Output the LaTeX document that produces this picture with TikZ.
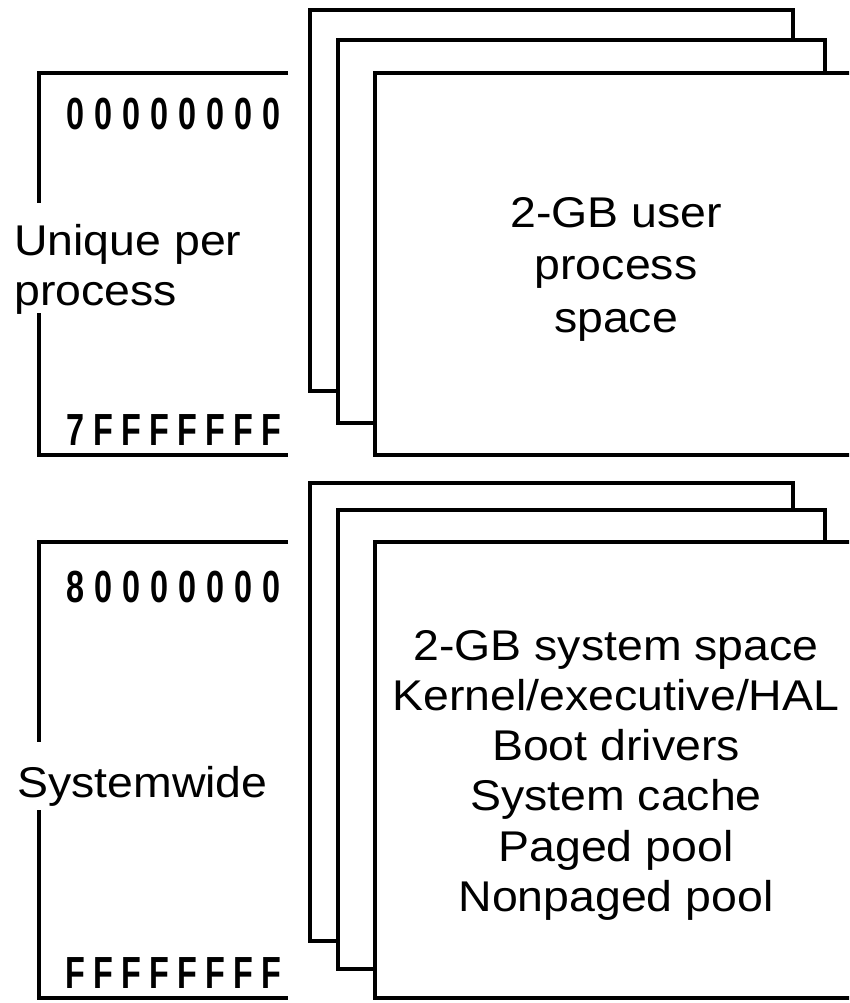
\documentclass[tikz,border=0pt]{standalone}
\usepackage{fontspec}
\setmainfont{Liberation Sans}
\newfontfamily\labelfont[FakeStretch=1.08]{Liberation Sans}
\newfontfamily\hexfont[FakeStretch=0.72]{Liberation Sans Bold}
\makeatletter
% set an address with a fixed pitch per character
\newcommand\hexrow[1]{\@tfor\hx:=#1\do{\makebox[28pt]{\hx}}}
\makeatother
\tikzset{
  rule/.style={line width=4pt, black, line cap=butt, line join=miter},
  page/.style={rule, fill=white},
  addr/.style={anchor=base west, inner sep=0pt, font=\hexfont\fontsize{45pt}{45pt}\selectfont},
  side/.style={anchor=base west, inner sep=0pt, align=left,
    font=\labelfont\fontsize{43pt}{50pt}\selectfont},
  body/.style={anchor=north, inner sep=0pt, align=center, font=\labelfont\fontsize{43pt}{#1}\selectfont}
}
\begin{document}
\begin{tikzpicture}[x=1pt,y=-1pt]
\useasboundingbox (0,0) rectangle (849,1003);
\clip (0,0) rectangle (849,1003);

% ---- per-process part: stacked user spaces ----
\filldraw[page] (310,10) rectangle (793,391);
\filldraw[page] (338,40) rectangle (825,423);
\filldraw[page] (375,73) rectangle (880,455);
\node[body=52.5pt] (user) at (616,197) {2-GB user\\process\\space};

% bracket for the unique range
\draw[rule] (288,73) -- (39,73) -- (39,203);
\draw[rule] (39,313) -- (39,455) -- (288,455);
\node[addr] (ulo) at (61,130) {\hexrow{00000000}};
\node[addr] (uhi) at (61,445) {\hexrow{7FFFFFFF}};
\node[side] (uniq) at (14,305) {Unique per\\process};

% ---- shared part: system space ----
\filldraw[page] (310,483) rectangle (793,941);
\filldraw[page] (338,510) rectangle (825,969);
\filldraw[page] (375,542) rectangle (880,998);
\node[body=50.2pt] (sys) at (616,630)
  {2-GB system space\\Kernel/executive/HAL\\Boot drivers\\System cache\\Paged pool\\Nonpaged pool};

% bracket for the systemwide range
\draw[rule] (288,542) -- (39,542) -- (39,742);
\draw[rule] (39,810) -- (39,998) -- (288,998);
\node[addr] (slo) at (61,602) {\hexrow{80000000}};
\node[addr] (shi) at (61,988) {\hexrow{FFFFFFFF}};
\node[side] (wide) at (17,797) {Systemwide};
\end{tikzpicture}
\end{document}
